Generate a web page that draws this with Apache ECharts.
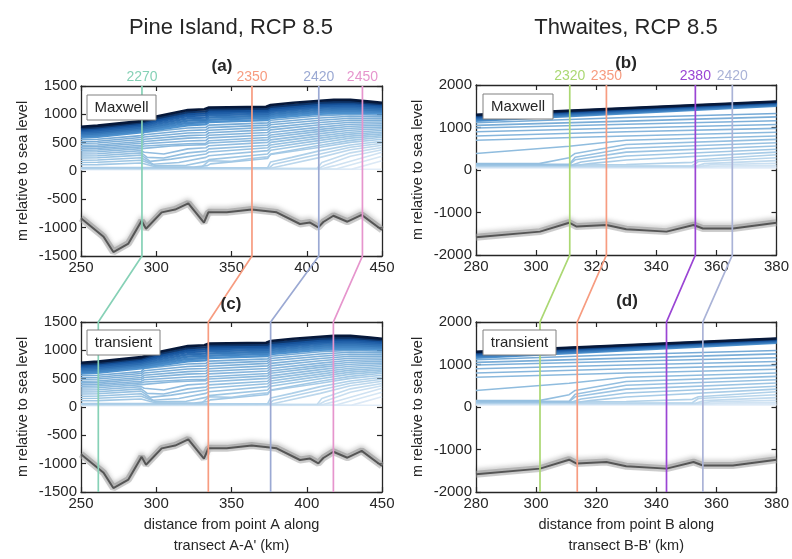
<!DOCTYPE html>
<html>
<head>
<meta charset="utf-8">
<script src="https://cdn.jsdelivr.net/npm/echarts@6/dist/echarts.min.js"></script>
<style>
  html, body { margin: 0; padding: 0; background: #fff; }
  #chart { width: 792px; height: 559px; }
</style>
</head>
<body>
<div id="chart"></div>
<script>
// ---------------- data ----------------
// Grounding-line years marked on each glacier, with their along-transect positions (km)
const pineYears = ['2270', '2350', '2420', '2450'];
const pineMaxwellYearX = [290.5, 363.6, 408, 437];
const pineTransientYearX = [261.5, 334.6, 376, 417.7];
const thwYears = ['2320', '2350', '2380', '2420'];
const thwMaxwellYearX = [311.2, 323.4, 353, 365.3];
const thwTransientYearX = [301.3, 313.7, 343.4, 355.5];

// Bed elevation along the transects (km, m)
const pineBed = [[250,-835],[265,-1160],[271.5,-1430],[281.5,-1280],[290.3,-880],[293.2,-1020],[303.6,-730],[312.5,-680],[321.3,-570],[331.7,-910],[334.6,-730],[346.8,-730],[363.4,-680],[380,-730],[395.5,-935],[402.2,-910],[407.7,-995],[411,-900],[417.7,-790],[427,-895],[436.5,-775],[450,-1040]];
const thwBed = [[280,-1580],[301.3,-1450],[311,-1240],[313.5,-1330],[323.4,-1295],[330,-1395],[343.4,-1450],[352.4,-1295],[355.5,-1375],[365.5,-1375],[380,-1240]];

// Ice-surface profiles through time, oldest (thickest) first
const pineSurface = [
  [[250,780],[261,800],[262,830],[290,880],[300,960],[321,1075],[332,1090],[335,1120],[373,1135],[376,1165],[391,1205],[409,1240],[418,1255],[429,1255],[442,1225],[450,1205]],
  [[250,755],[261,775],[262,805],[290,855],[300,930],[321,1040],[333,1055],[335,1090],[374,1105],[376,1135],[409,1210],[429,1225],[450,1185]],
  [[250,730],[261,750],[262,780],[290,830],[300,900],[321,1005],[333,1020],[335,1055],[374,1075],[376,1105],[409,1180],[429,1195],[450,1160]],
  [[250,705],[261,725],[262,755],[290,805],[300,870],[321,970],[333,985],[335,1020],[374,1045],[376,1075],[409,1150],[429,1165],[450,1135]],
  [[250,680],[261,695],[262,725],[290,775],[300,835],[321,930],[333,945],[335,985],[374,1010],[376,1040],[409,1115],[429,1135],[450,1105]],
  [[250,650],[261,665],[262,695],[290,745],[300,800],[321,890],[333,905],[335,945],[374,975],[376,1005],[409,1080],[429,1100],[450,1075]],
  [[250,620],[261,635],[262,665],[290,715],[300,765],[321,850],[333,865],[335,905],[374,940],[376,970],[409,1045],[429,1065],[450,1045]],
  [[250,590],[261,605],[262,635],[290,685],[300,730],[321,810],[333,825],[335,865],[374,900],[376,935],[409,1010],[429,1030],[450,1015]],
  [[250,555],[261,560],[262,585],[290,625],[292,680],[321,760],[333,770],[335,810],[374,850],[376,895],[409,975],[429,1000],[450,985]],
  [[250,520],[261,525],[262,550],[290,590],[292,640],[321,715],[333,725],[335,765],[374,810],[376,855],[409,935],[429,965],[450,955]],
  [[250,490],[261,495],[262,520],[290,555],[292,600],[321,670],[333,680],[335,720],[374,770],[376,815],[409,895],[429,930],[450,925]],
  [[250,455],[261,460],[262,485],[290,520],[292,560],[321,625],[333,635],[335,675],[374,725],[376,770],[409,855],[429,895],[450,895]],
  [[250,425],[261,430],[262,455],[290,490],[292,520],[321,580],[333,590],[335,630],[374,680],[376,725],[409,815],[429,860],[450,865]],
  [[250,395],[261,400],[262,425],[290,455],[292,480],[321,530],[333,540],[335,585],[374,635],[376,680],[409,775],[429,825],[450,835]],
  [[250,365],[261,370],[262,395],[290,425],[292,440],[321,480],[333,490],[335,535],[374,590],[376,635],[409,735],[429,790],[450,805]],
  [[250,335],[261,340],[262,365],[290,395],[292,400],[310,440],[321,455],[333,465],[335,495],[374,550],[376,595],[409,700],[429,755],[450,775]],
  [[250,300],[261,305],[262,330],[290,360],[292,330],[305,300],[321,390],[333,410],[335,445],[374,505],[376,550],[409,660],[429,720],[450,745]],
  [[250,265],[261,270],[262,295],[290,320],[294,240],[305,230],[321,320],[333,350],[335,390],[374,455],[376,505],[409,620],[429,685],[450,715]],
  [[250,230],[261,235],[262,255],[290,280],[296,170],[310,210],[333,300],[335,335],[374,410],[376,460],[409,580],[429,650],[450,685]],
  [[250,190],[261,195],[262,215],[290,235],[298,120],[315,150],[333,240],[335,270],[374,360],[376,415],[409,540],[429,615],[450,655]],
  [[250,150],[261,155],[262,170],[290,190],[300,90],[320,100],[333,170],[335,200],[374,300],[376,365],[409,500],[429,580],[450,625]],
  [[250,110],[261,113],[262,125],[290,140],[300,70],[325,70],[334,95],[336,125],[374,220],[376,300],[409,455],[429,540],[450,595]],
  [[250,62],[330,64],[335,180],[350,170],[363,220],[374,250],[376,290],[409,420],[429,505],[450,560]],
  [[250,56],[374,60],[376,160],[390,240],[409,360],[429,460],[450,525]],
  [[250,52],[375,55],[378,120],[409,300],[429,420],[450,490]],
  [[250,48],[376,50],[385,100],[409,240],[429,375],[450,455]],
  [[250,45],[407,48],[410,150],[429,320],[450,415]],
  [[250,42],[408,45],[412,100],[429,260],[450,375]],
  [[250,38],[410,40],[418,90],[450,330]],
  [[250,34],[420,38],[450,260]],
  [[250,30],[430,33],[450,180]],
  [[250,25],[450,30]]
];

const thwSurface = [
  [[280,1300],[380,1610]],
  [[280,1285],[380,1600]],
  [[280,1268],[380,1588]],
  [[280,1250],[380,1575]],
  [[280,1230],[380,1560]],
  [[280,1208],[380,1545]],
  [[280,1185],[380,1528]],
  [[280,1160],[380,1510]],
  [[280,1110],[330,1235],[380,1330]],
  [[280,1050],[330,1150],[380,1250]],
  [[280,990],[330,1075],[380,1160]],
  [[280,900],[330,990],[380,1070]],
  [[280,800],[330,900],[380,980]],
  [[280,700],[330,800],[380,890]],
  [[280,390],[311,560],[330,700],[380,800]],
  [[280,150],[301,150],[311,290],[313,390],[330,600],[380,720]],
  [[280,135],[311,135],[313,300],[330,510],[380,640]],
  [[280,125],[311,125],[313,240],[330,420],[380,565]],
  [[280,115],[312,115],[315,190],[330,330],[380,490]],
  [[280,105],[313,105],[318,150],[330,235],[380,420]],
  [[280,95],[330,130],[352,180],[354,240],[380,360]],
  [[280,90],[352,100],[354,200],[380,290]],
  [[280,85],[353,85],[356,150],[380,220]],
  [[280,80],[354,80],[358,120],[380,160]],
  [[280,70],[356,70],[362,95],[380,110]],
  [[280,60],[380,75]],
  [[280,50],[380,50]]
];

// ---------------- styling ----------------
const FONT = '"Helvetica Neue", Helvetica, "Liberation Sans", Arial, sans-serif';
const INK = '#262626';
const pineYearColors = ['#86d1b6', '#f79c80', '#9ba9d3', '#e695cd'];
const thwYearColors = ['#abd873', '#f79c80', '#9a45d4', '#aab3d7'];
const BAND = 8; // number of closely spaced early profiles

function mix(stops, t) {
  for (let k = 1; k < stops.length; k++) {
    if (t <= stops[k][0] || k === stops.length - 1) {
      const a = stops[k - 1], b = stops[k];
      const f = Math.max(0, Math.min(1, (t - a[0]) / (b[0] - a[0])));
      const c = a[1].map((v, j) => Math.round(v + (b[1][j] - v) * f));
      return 'rgb(' + c.join(',') + ')';
    }
  }
}
const bandStops = [[0, [6, 24, 58]], [0.3, [22, 84, 158]], [1, [78, 146, 206]]];
const lightStops = [[0, [118, 170, 214]], [0.55, [160, 199, 228]], [1, [226, 237, 248]]];
function surfaceColor(i, total) {
  if (i < BAND) return mix(bandStops, i / (BAND - 1));
  return mix(lightStops, (i - BAND) / (total - BAND - 1));
}

const panels = [
  { grid: { left: 81, top: 86, width: 301, height: 170 }, x: [250, 450, 50], y: [-1500, 1500, 500], surf: pineSurface, bed: pineBed },
  { grid: { left: 476, top: 85, width: 301, height: 170 }, x: [280, 380, 20], y: [-2000, 2000, 1000], surf: thwSurface, bed: thwBed },
  { grid: { left: 81, top: 322, width: 301, height: 170 }, x: [250, 450, 50], y: [-1500, 1500, 500], surf: pineSurface, bed: pineBed,
    xname: "distance from point A along\ntransect A-A' (km)" },
  { grid: { left: 476, top: 322, width: 301, height: 170 }, x: [280, 380, 20], y: [-2000, 2000, 1000], surf: thwSurface, bed: thwBed,
    xname: "distance from point B along\ntransect B-B' (km)" }
];

const grid = [], xAxis = [], yAxis = [], series = [];
const axisLine = { show: true, onZero: false, lineStyle: { color: INK, width: 1.3 } };
const tick = { show: true, inside: true, length: 5, lineStyle: { color: INK, width: 1.2 } };
const plain = v => String(v);

panels.forEach((p, i) => {
  grid.push(Object.assign({ containLabel: false }, p.grid));
  xAxis.push({
    type: 'value', gridIndex: i, position: 'bottom', min: p.x[0], max: p.x[1], interval: p.x[2],
    axisLine, axisTick: tick, splitLine: { show: false },
    axisLabel: { color: INK, fontSize: 15, fontFamily: FONT, margin: 4, formatter: plain },
    name: p.xname || '', nameLocation: 'middle', nameGap: 22,
    nameTextStyle: { color: INK, fontSize: 14.5, fontFamily: FONT, lineHeight: 21 }
  });
  yAxis.push({
    type: 'value', gridIndex: i, position: 'left', min: p.y[0], max: p.y[1], interval: p.y[2],
    axisLine, axisTick: tick, splitLine: { show: false },
    axisLabel: { color: INK, fontSize: 15, fontFamily: FONT, margin: 4, formatter: plain },
    name: 'm relative to sea level', nameLocation: 'middle', nameGap: 51,
    nameTextStyle: { color: INK, fontSize: 14.5, fontFamily: FONT }
  });
});
// mirrored box axes with inward ticks on top and right
panels.forEach((p, i) => {
  xAxis.push({
    type: 'value', gridIndex: i, position: 'top', min: p.x[0], max: p.x[1], interval: p.x[2],
    axisLine, axisTick: tick, axisLabel: { show: false }, splitLine: { show: false }
  });
  yAxis.push({
    type: 'value', gridIndex: i, position: 'right', min: p.y[0], max: p.y[1], interval: p.y[2],
    axisLine, axisTick: tick, axisLabel: { show: false }, splitLine: { show: false }
  });
});

panels.forEach((p, i) => {
  const n = p.surf.length;
  // lightest (latest) profiles first so the early dark ones sit on top
  for (let k = n - 1; k >= 0; k--) {
    series.push({
      type: 'line', xAxisIndex: i, yAxisIndex: i, data: p.surf[k],
      symbol: 'none', silent: true, z: 2,
      lineStyle: { color: surfaceColor(k, n), width: k < BAND ? 2.6 : 1.6 }
    });
  }
  // bed: soft grey halo plus a darker core
  series.push({
    type: 'line', xAxisIndex: i, yAxisIndex: i, data: p.bed, symbol: 'none', silent: true, z: 3,
    lineStyle: { color: 'rgba(170,170,170,0.55)', width: 7 }
  });
  series.push({
    type: 'line', xAxisIndex: i, yAxisIndex: i, data: p.bed, symbol: 'none', silent: true, z: 4,
    lineStyle: { color: '#555', width: 2, shadowColor: 'rgba(40,40,40,0.6)', shadowBlur: 5, shadowOffsetY: -3 }
  });
});

const chart = echarts.init(document.getElementById('chart'), null, { renderer: 'canvas' });
chart.setOption({ animation: false, backgroundColor: '#fff', grid, xAxis, yAxis, series });

// ---------------- annotations ----------------
const graphics = [];
function text(str, x, y, size, weight, color) {
  graphics.push({ type: 'text', x, y, z: 120, silent: true,
    style: { text: str, fill: color || INK, font: (weight || 'normal') + ' ' + size + 'px ' + FONT,
             textAlign: 'center', textVerticalAlign: 'middle' } });
}
text('Pine Island, RCP 8.5', 231, 28, 22);
text('Thwaites, RCP 8.5', 626, 28, 22);
text('(a)', 222, 66, 17, 'bold');
text('(b)', 626, 63, 17, 'bold');
text('(c)', 231, 304, 17, 'bold');
text('(d)', 627, 301, 17, 'bold');

function tag(str, x, y, w) {
  graphics.push({ type: 'rect', z: 110, silent: true, shape: { x: x, y: y, width: w, height: 25 },
    style: { fill: '#fff', stroke: '#808080', lineWidth: 1 } });
  text(str, x + w / 2, y + 12.5, 15);
}
tag('Maxwell', 87, 95, 69);
tag('Maxwell', 483, 94, 70);
tag('transient', 87, 330, 73);
tag('transient', 483, 330, 73);

// year markers: vertical in the Maxwell panel, joined to the transient panel
function yearMarkers(top, bot, years, xTop, xBot, colors) {
  const yt = panels[top].y, yb = panels[bot].y;
  years.forEach((yr, k) => {
    const p1 = chart.convertToPixel({ xAxisIndex: top, yAxisIndex: top }, [xTop[k], yt[1]]);
    const p2 = chart.convertToPixel({ xAxisIndex: top, yAxisIndex: top }, [xTop[k], yt[0]]);
    const p3 = chart.convertToPixel({ xAxisIndex: bot, yAxisIndex: bot }, [xBot[k], yb[1]]);
    const p4 = chart.convertToPixel({ xAxisIndex: bot, yAxisIndex: bot }, [xBot[k], yb[0]]);
    graphics.push({ type: 'polyline', z: 100, silent: true, shape: { points: [p1, p2, p3, p4] },
      style: { stroke: colors[k], lineWidth: 1.7, fill: null } });
    text(yr, p1[0], p1[1] - 9, 14, 'normal', colors[k]);
  });
}
yearMarkers(0, 2, pineYears, pineMaxwellYearX, pineTransientYearX, pineYearColors);
yearMarkers(1, 3, thwYears, thwMaxwellYearX, thwTransientYearX, thwYearColors);

chart.setOption({ graphic: graphics });
</script>
</body>
</html>
